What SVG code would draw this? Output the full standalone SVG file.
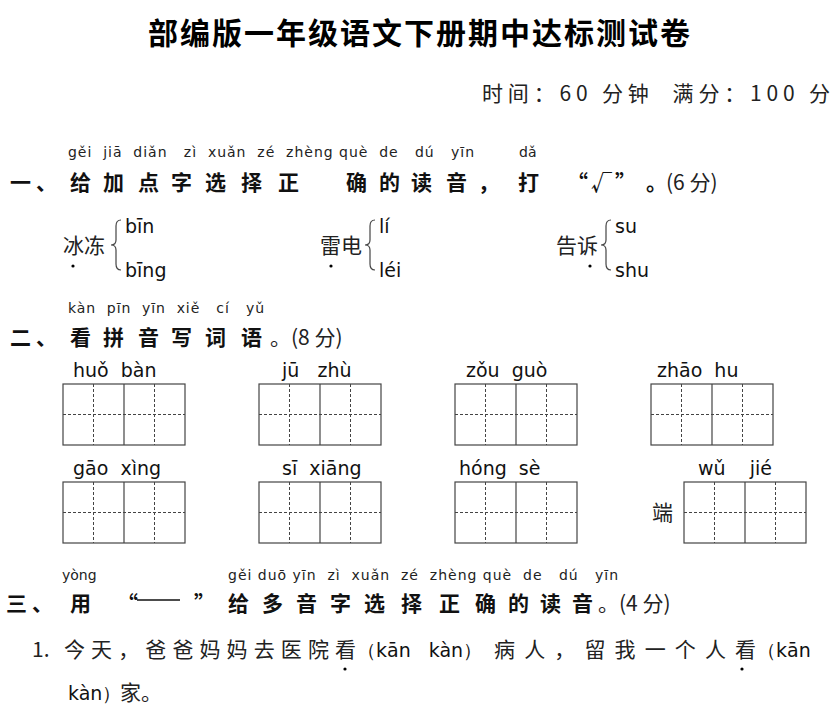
<svg xmlns="http://www.w3.org/2000/svg" width="837" height="712" viewBox="0 0 837 712">
<style>
text{white-space:pre}
.t{font-family:"Noto Sans CJK SC",sans-serif;font-weight:bold;font-size:30px;fill:#000}
.h{font-family:"Noto Sans CJK SC",sans-serif;font-weight:bold;font-size:21px;fill:#111}
.p{font-family:"DejaVu Sans","Noto Sans",sans-serif;font-size:14px;fill:#222}
.pb{font-family:"DejaVu Sans","Noto Sans",sans-serif;font-size:19px;fill:#111}
.b{font-family:"Noto Sans CJK SC",serif;font-size:21px;fill:#222}
.o{fill:none;stroke:#444;stroke-width:1.2}
.d{fill:none;stroke:#444;stroke-width:1;stroke-dasharray:3,2}
</style>
<rect width="837" height="712" fill="#fff"/>
<text class="t" x="148" y="44" textLength="542">部编版一年级语文下册期中达标测试卷</text>
<text class="b" x="482" y="101" textLength="348">时间：60 分钟  满分：100 分</text>

<g id="q1">
<text class="p" x="68" y="157" textLength="406">gěi  jiā  diǎn   zì  xuǎn  zé  zhèng què  de   dú   yīn</text>
<text class="p" x="519" y="157">dǎ</text>
<text class="h" y="190" x="10 36 70 103 138 171 205 241 278 346 379 411 446 478 518 567 591 615 646">一、给加点字选择正确的读音，打“√”。</text>
<text class="b" x="666" y="190">(6 分)</text>
<text class="b" x="63" y="253">冰冻</text><circle cx="73" cy="266" r="1.6"/>
<text class="pb" x="125" y="233">bīn</text><text class="pb" x="125" y="277">bīng</text>
<text class="b" x="320" y="253">雷电</text><circle cx="331" cy="266" r="1.6"/>
<text class="pb" x="379" y="233">lí</text><text class="pb" x="379" y="277">léi</text>
<text class="b" x="556" y="253">告诉</text><circle cx="590" cy="266" r="1.6"/>
<text class="pb" x="615" y="233">su</text><text class="pb" x="615" y="277">shu</text>
<path class="o" d="M121 220 q-5 0 -5 6 v14 q0 5 -5 5 q5 0 5 5 v14 q0 6 5 6"/>
<path class="o" d="M375 220 q-5 0 -5 6 v14 q0 5 -5 5 q5 0 5 5 v14 q0 6 5 6"/>
<path class="o" d="M611 220 q-5 0 -5 6 v14 q0 5 -5 5 q5 0 5 5 v14 q0 6 5 6"/>
</g>

<g id="q2">
<text class="p" x="68" y="313" textLength="196">kàn  pīn  yīn  xiě   cí   yǔ</text>
<text class="h" y="345" x="10 36 70 103 138 171 205 241">二、看拼音写词语</text>
<text class="b" x="270" y="345">。(8 分)</text>
<g id="grids">
<text class="pb" x="73" y="377">huǒ  bàn</text>
<text class="pb" x="282" y="377">jū   zhù</text>
<text class="pb" x="466" y="377">zǒu  guò</text>
<text class="pb" x="657" y="377">zhāo  hu</text>
<text class="pb" x="73" y="475">gāo  xìng</text>
<text class="pb" x="282" y="475">sī  xiāng</text>
<text class="pb" x="459" y="475">hóng  sè</text>
<text class="pb" x="698" y="475">wǔ    jié</text>
<text class="b" x="652" y="520">端</text>
<g id="box1" transform="translate(63,384)"><rect class="o" width="122" height="61"/><line class="o" x1="61" y1="0" x2="61" y2="61"/><path class="d" d="M0 30.5H122M30.5 0V61M91.5 0V61"/></g>
<g id="box2" transform="translate(259,384)"><rect class="o" width="122" height="61"/><line class="o" x1="61" y1="0" x2="61" y2="61"/><path class="d" d="M0 30.5H122M30.5 0V61M91.5 0V61"/></g>
<g id="box3" transform="translate(455,384)"><rect class="o" width="122" height="61"/><line class="o" x1="61" y1="0" x2="61" y2="61"/><path class="d" d="M0 30.5H122M30.5 0V61M91.5 0V61"/></g>
<g id="box4" transform="translate(651,384)"><rect class="o" width="122" height="61"/><line class="o" x1="61" y1="0" x2="61" y2="61"/><path class="d" d="M0 30.5H122M30.5 0V61M91.5 0V61"/></g>
<g id="box5" transform="translate(63,482)"><rect class="o" width="122" height="61"/><line class="o" x1="61" y1="0" x2="61" y2="61"/><path class="d" d="M0 30.5H122M30.5 0V61M91.5 0V61"/></g>
<g id="box6" transform="translate(259,482)"><rect class="o" width="122" height="61"/><line class="o" x1="61" y1="0" x2="61" y2="61"/><path class="d" d="M0 30.5H122M30.5 0V61M91.5 0V61"/></g>
<g id="box7" transform="translate(455,482)"><rect class="o" width="122" height="61"/><line class="o" x1="61" y1="0" x2="61" y2="61"/><path class="d" d="M0 30.5H122M30.5 0V61M91.5 0V61"/></g>
<g id="box8" transform="translate(684,482)"><rect class="o" width="122" height="61"/><line class="o" x1="61" y1="0" x2="61" y2="61"/><path class="d" d="M0 30.5H122M30.5 0V61M91.5 0V61"/></g>
</g>
</g>

<g id="q3">
<text class="p" x="62" y="580">yòng</text>
<text class="p" x="228" y="580" textLength="390">gěi duō yīn  zì  xuǎn  zé  zhèng què  de   dú   yīn</text>
<text class="h" y="611" x="6 32 70 117 194 228 262 296 330 364 401 439 475 508 540 572">三、用“”给多音字选择正确的读音</text>
<line x1="137" y1="600" x2="180" y2="600" stroke="#111" stroke-width="1.5"/>
<text class="b" x="598" y="611">。(4 分)</text>
<text class="b" x="32" y="657">1.</text>
<text class="b" x="64" y="657" textLength="292">今天，爸爸妈妈去医院看</text>
<circle cx="345" cy="669" r="1.6"/>
<text class="pb" x="357" y="657">（kān   kàn）</text>
<text class="b" x="494" y="657" textLength="262">病人，留我一个人看</text>
<text class="pb" x="757" y="657">（kān</text>
<circle cx="742" cy="669" r="1.6"/>
<text class="pb" x="68" y="700">kàn）</text>
<text class="b" x="120" y="700">家。</text>
</g>
</svg>
